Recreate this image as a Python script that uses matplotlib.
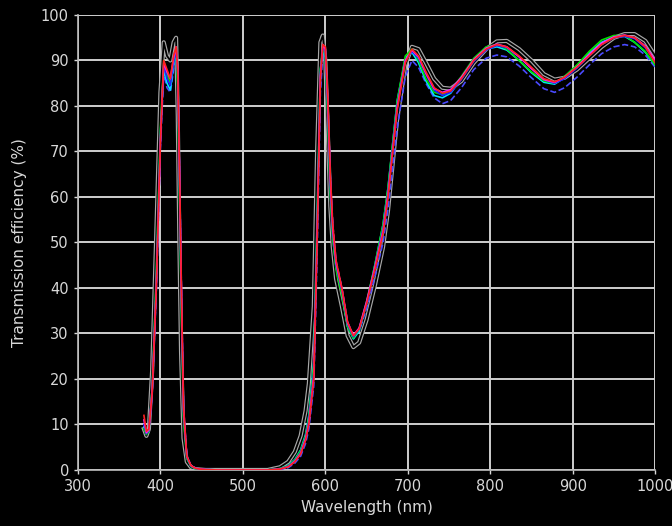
import numpy as np
import matplotlib.pyplot as plt
import matplotlib.patheffects as pe

# wavelength sampling (nm), shared by all measured curves
wl = [380, 383, 386, 390, 395, 400, 404, 408, 412, 416, 419, 421, 423, 425, 428, 432, 437, 442, 448,
      455, 470, 500, 530, 545, 555, 563, 570, 576, 580, 586, 590, 594, 597, 600, 603, 606, 609, 613,
      620, 627, 634, 641, 650, 660, 670, 676, 687, 697, 705, 713, 722, 732, 742, 752, 765, 780, 795,
      808, 820, 835, 850, 865, 878, 890, 905, 920, 935, 950, 963, 975, 988, 1000]

red = [12, 8.5, 9, 17, 40, 72, 90, 88, 86, 91, 93, 88, 68, 45, 14, 3, 1, 0.4, 0.2,
       0.1, 0, 0, 0, 0.2, 0.7, 1.8, 3.5, 6.5, 10, 20, 50, 86, 93.5, 93, 82, 65, 54, 46,
       40, 32.5, 29.5, 31, 36.5, 44, 52, 60, 79, 89.5, 92.5, 91, 87.5, 84, 82.8, 83.3, 86, 90, 92.5,
       93.5, 93, 91, 88.5, 86, 85.3, 86.3, 88.5, 91, 93.5, 95, 95.5, 95, 93, 89.5]

green = [9, 7.8, 8.5, 18, 43, 75, 90, 87, 85, 90, 92, 84, 62, 38, 11, 2.5, 0.8, 0.3, 0.1,
         0.1, 0, 0, 0, 0.3, 0.9, 2.2, 4.2, 7.5, 11.5, 23, 54, 88, 93, 91, 78, 61, 51, 44,
         38.5, 31.5, 29, 31, 37, 45, 54, 62, 81, 91, 92.5, 90, 86, 83, 82.5, 83.5, 86.5, 90.5, 93,
         93.5, 92.5, 90, 87.5, 85.5, 85, 86.5, 89, 92, 94.5, 95.5, 95.5, 94, 92, 89]

blue = [10, 8, 8.8, 17.5, 41, 73, 89, 86, 84.5, 89.5, 92.5, 87, 66, 43, 13, 2.8, 0.9, 0.4, 0.2,
        0.1, 0, 0, 0, 0.2, 0.8, 2, 3.8, 7, 10.8, 21.5, 52, 87, 93, 92, 80, 63, 52.5, 45,
        39.5, 32, 29.3, 31, 36.5, 44.5, 53, 61, 80, 90, 92, 90.5, 87, 83.5, 82.3, 83, 85.8, 89.8, 92.3,
        93.3, 92.8, 90.8, 88.3, 85.8, 85, 86, 88.3, 91, 93.5, 95, 95.3, 94.8, 92.8, 89.8]

magenta = [11, 8.2, 8.8, 17, 40, 72, 89.5, 87.5, 86, 90.5, 93, 88, 67, 44, 13.5, 3, 1, 0.4, 0.2,
           0.1, 0, 0, 0, 0.2, 0.7, 1.9, 3.6, 6.8, 10.3, 20.5, 51, 86.5, 93.5, 92.5, 81, 64, 53, 45.5,
           40, 32.3, 29.6, 31.2, 37, 44.5, 52.5, 60.5, 79.5, 90, 92.3, 90.8, 87.2, 83.8, 83, 83.6, 86.3, 90.2, 92.7,
           93.6, 93, 90.8, 88.2, 85.8, 85.2, 86.3, 88.6, 91.3, 93.8, 95.2, 95.6, 95, 93.2, 90]

cyan = [9.5, 8, 8.6, 18, 42, 74, 88, 85, 83.5, 89, 92, 85, 63, 40, 12, 2.6, 0.8, 0.3, 0.1,
        0.1, 0, 0, 0, 0.3, 1, 2.3, 4.4, 7.8, 12, 24, 55, 88, 92.5, 90.5, 78, 61, 51, 44.5,
        39, 31.5, 28.8, 30.5, 36.5, 45, 54, 62, 81, 90.5, 91.8, 89.5, 85.5, 82.3, 81.8, 82.8, 86, 90, 92.5,
        93, 92.3, 90, 87.3, 85.2, 84.8, 86.2, 88.8, 91.6, 94, 95.2, 95.3, 94, 91.8, 89]

blue_dash = [9, 7.8, 8.4, 16.5, 39, 71, 87, 84, 83, 88, 91.5, 88, 68, 45, 14, 3, 1, 0.4, 0.2,
             0.1, 0, 0, 0, 0.1, 0.5, 1.5, 3, 5.8, 9, 18.5, 47, 83, 91.5, 92, 81, 65, 54, 46,
             40, 32.5, 29.5, 30.5, 35.5, 42.5, 50, 57.5, 75, 86.5, 90, 88.5, 85, 81.8, 80.5, 81.2, 84, 88, 90.5,
             91.2, 90.8, 88.8, 86.2, 83.8, 83, 84, 86.3, 89, 91.5, 93, 93.5, 93, 91.2, 88.5]

black = [9, 7.5, 9, 22, 52, 83, 94, 91, 90, 94, 95, 78, 50, 26, 7, 1.8, 0.6, 0.2, 0.1,
         0, 0, 0, 0, 0.6, 1.8, 4, 7.5, 13, 19, 36, 70, 94, 95.5, 90, 74, 58, 49, 42,
         36, 29.5, 27, 28, 33, 40.5, 49, 57, 77, 89, 93, 92.5, 89.5, 86, 84, 83.8, 85.5, 89.5, 92.5,
         94.2, 94.3, 92.5, 90, 87, 85.8, 86.2, 88, 90.5, 93, 95, 95.8, 95.8, 94.3, 91]

series = [
    (blue_dash, '#4a4aff', '--'),
    (cyan, '#00e5ff', '-'),
    (green, '#00e000', '-'),
    (blue, '#2020ff', '-'),
    (magenta, '#ff20ff', '-'),
    (red, '#ff2020', '-'),
]

fig = plt.figure(figsize=(6.72, 5.26), dpi=100, facecolor='black')
ax = fig.add_axes([0.116, 0.1065, 0.859, 0.865])
ax.set_facecolor('black')

# black curve sits underneath, with a light halo so it shows on the black background
ax.plot(wl, black, color='black', lw=1.3, zorder=2.5,
        path_effects=[pe.Stroke(linewidth=3.0, foreground='#a8a8a8'), pe.Normal()])
for vals, col, ls in series:
    ax.plot(wl, vals, color=col, ls=ls, lw=1.2, zorder=3)

ax.set_xlim(300, 1000)
ax.set_ylim(0, 100)
ax.set_xticks(np.arange(300, 1001, 100))
ax.set_yticks(np.arange(0, 101, 10))
ax.grid(True, color='#cfcfcf', lw=1.4, zorder=1)
ax.set_axisbelow(True)
for s in ['top', 'right']:
    ax.spines[s].set_visible(False)
for s in ['left', 'bottom']:
    ax.spines[s].set_color('#bdbdbd')
    ax.spines[s].set_linewidth(1.2)
ax.tick_params(colors='#d8d8d8', labelsize=10.5, length=3, width=1)

ax.set_xlabel('Wavelength (nm)', color='#d8d8d8', fontsize=11, labelpad=4)
ax.set_ylabel('Transmission efficiency (%)', color='#d8d8d8', fontsize=11, labelpad=10)

fig.savefig('out.png', dpi=100, facecolor='black')
